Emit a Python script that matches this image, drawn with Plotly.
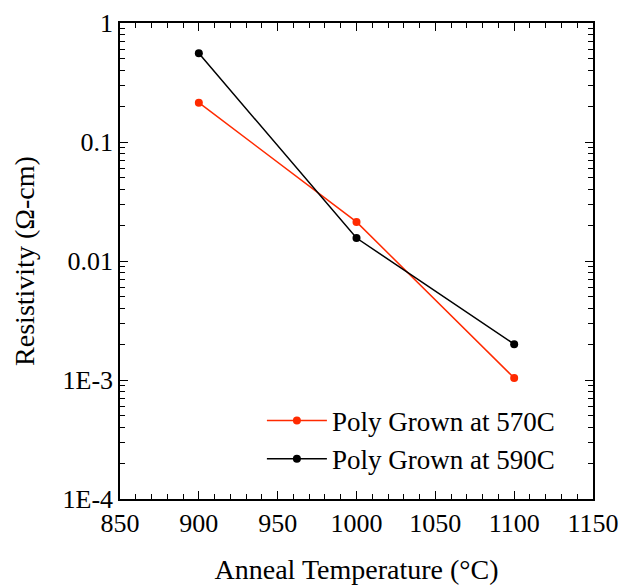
import plotly.graph_objects as go

temps = [900, 1000, 1100]
res_570 = [0.214, 0.0213, 0.00104]
res_590 = [0.556, 0.0156, 0.00200]
names = ["Poly Grown at 570C", "Poly Grown at 590C"]
colors = ["#FF2A00", "#000000"]

fig = go.Figure()
for ys, name, c in zip([res_570, res_590], names, colors):
    fig.add_trace(go.Scatter(x=temps, y=ys, mode="lines+markers", name=name,
                             line=dict(color=c, width=1.5),
                             marker=dict(color=c, size=8, symbol="circle")))

fam = "Liberation Serif, Times New Roman, serif"
fig.update_layout(
    width=620, height=578,
    margin=dict(l=112, r=35, t=15, b=87),
    paper_bgcolor="white", plot_bgcolor="white",
    font=dict(family=fam, size=26, color="black"),
    showlegend=True,
    legend=dict(x=0.30, y=0.124, xanchor="left", yanchor="middle",
                bgcolor="rgba(0,0,0,0)", font=dict(family=fam, size=27), itemwidth=60,
                tracegroupgap=0),
)
fig.update_xaxes(
    range=[850, 1150], tickmode="linear", tick0=850, dtick=50,
    ticks="inside", ticklen=8, tickwidth=1.2, tickcolor="black",
    minor=dict(ticks="inside", dtick=10, ticklen=5, tickwidth=1.2, tickcolor="black", showgrid=False),
    showline=True, linecolor="black", linewidth=1.5, mirror="allticks",
    showgrid=False, zeroline=False, automargin=False,
    tickfont=dict(family=fam, size=26),
    title=dict(text="Anneal Temperature (°C)", standoff=22, font=dict(family=fam, size=28)),
)
fig.update_yaxes(
    type="log", range=[-4, 0], tickmode="linear", tick0=0, dtick=1,
    exponentformat="none",
    labelalias={"0.001": "1E-3", "0.0001": "1E-4"},
    ticks="inside", ticklen=8, tickwidth=1.2, tickcolor="black",
    minor=dict(ticks="inside", ticklen=5, tickwidth=1.2, tickcolor="black", showgrid=False),
    showline=True, linecolor="black", linewidth=1.5, mirror="allticks",
    showgrid=False, zeroline=False, automargin=False,
    tickfont=dict(family=fam, size=26),
    title=dict(text="Resistivity (Ω-cm)", standoff=20, font=dict(family=fam, size=28)),
)
fig.write_html("out.html")
